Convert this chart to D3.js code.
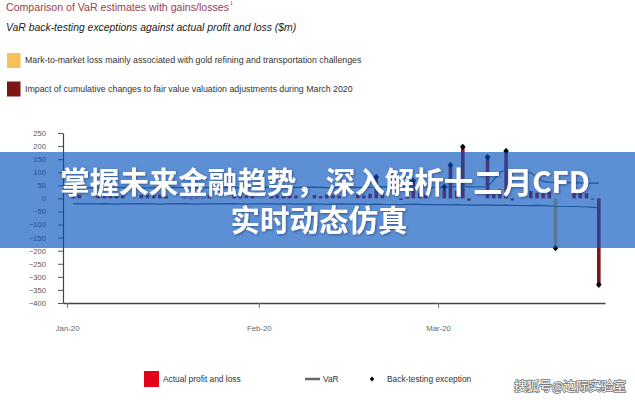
<!DOCTYPE html>
<html><head><meta charset="utf-8">
<script src="https://cdn.jsdelivr.net/npm/d3@7"></script>
<style>
body{margin:0;background:#fff}
svg{display:block}
text{font-family:"Liberation Sans",Arial,Helvetica,sans-serif}
</style></head>
<body><svg id="c" width="635" height="400"></svg>
<script>
// ---------- DATA ----------
const dates = [
 "2020-01-02","2020-01-03","2020-01-06","2020-01-07","2020-01-08","2020-01-09","2020-01-10",
 "2020-01-13","2020-01-14","2020-01-15","2020-01-16","2020-01-17","2020-01-20","2020-01-21",
 "2020-01-22","2020-01-23","2020-01-24","2020-01-28","2020-01-29","2020-01-30","2020-01-31",
 "2020-02-03","2020-02-04","2020-02-05","2020-02-06","2020-02-07","2020-02-10","2020-02-11",
 "2020-02-12","2020-02-13","2020-02-14","2020-02-17","2020-02-18","2020-02-19","2020-02-20",
 "2020-02-21","2020-02-24","2020-02-25","2020-02-26","2020-02-27","2020-02-28",
 "2020-03-02","2020-03-03","2020-03-04","2020-03-05","2020-03-06","2020-03-09","2020-03-10",
 "2020-03-11","2020-03-12","2020-03-13","2020-03-16","2020-03-17","2020-03-18","2020-03-19",
 "2020-03-20","2020-03-23","2020-03-24","2020-03-25","2020-03-26","2020-03-27"
];
const profitLoss = [
 12,14,9,13,15,11,12,14,13,12,15,10,3,-3,2,-2,13,12,14,11,13,
 10,12,8,14,11,13,9,15,12,10,14,11,18,82,16,-6,20,67,22,15,
 45,128,30,197,-9,158,25,35,181,-8,28,22,32,26,-190,30,24,20,-4,-190
];
const varUpper = [
 40,41,40,39,40,41,42,41,40,40,41,42,41,40,40,41,42,41,40,41,42,
 42,41,40,41,42,43,42,41,40,41,42,41,42,44,45,44,46,45,44,43,
 42,44,45,46,44,45,70,100,108,104,98,80,65,62,60,60,59,58,58,58
];
const varLower = [
 -20,-21,-21,-20,-21,-22,-21,-20,-21,-21,-22,-21,-20,-21,-22,-21,-21,-20,-21,-22,-21,
 -21,-22,-21,-21,-22,-21,-22,-23,-22,-21,-22,-22,-23,-22,-23,-24,-23,-22,-23,-24,
 -24,-25,-24,-25,-26,-25,-26,-27,-26,-27,-28,-27,-28,-29,-30,-31,-32,-33,-34,-35
];
const goldLossDates = ["2020-03-20"];                 // mark-to-market loss (gold)
const fairValueAdj = [["2020-03-27", -140]];          // cumulative fair value adjustments
const exceptionDates = ["2020-02-20","2020-02-26","2020-03-02","2020-03-03","2020-03-05",
                        "2020-03-09","2020-03-12","2020-03-20","2020-03-27"];
const monthTicks = ["2020-01-01","2020-02-01","2020-03-01"];
const yTicks = [250,200,150,100,50,0,-50,-100,-150,-200,-250,-300,-350,-400];
const title = "Comparison of VaR estimates with gains/losses";
const subtitle = "VaR back-testing exceptions against actual profit and loss ($m)";
const topLegend = ["Mark-to-market loss mainly associated with gold refining and transportation challenges",
                   "Impact of cumulative changes to fair value valuation adjustments during March 2020"];
const bottomLegend = ["Actual profit and loss","VaR","Back-testing exception"];
const bannerLines = ["掌握未来金融趋势，深入解析十二月CFD","实时动态仿真"];
const watermark = "搜狐号@边际实验室";

// ---------- CHART ----------
const parse = d3.timeParse("%Y-%m-%d");
const adjMap = new Map(fairValueAdj);
const rows = dates.map((k,i)=>({key:k,date:parse(k),v:profitLoss[i],up:varUpper[i],lo:varLower[i],
   adj:adjMap.get(k)||0}));
const svg = d3.select("#c");

const x = d3.scaleTime().domain([new Date(2019,11,31,8), new Date(2020,2,28)]).range([63,605]);
const y = d3.scaleLinear().domain([-400,250]).range([303,133]);

const COL_PL = "#b3151f", COL_GOLD = "#f6c15b", COL_ADJ = "#7c1717", COL_VAR = "#5a5f66";

// titles
const t1 = svg.append("text").attr("x",6).attr("y",11).attr("font-size",10.6).attr("fill","#9b3d52").text(title);
const tEnd = 6 + t1.node().getComputedTextLength();
svg.append("text").attr("x",tEnd+1).attr("y",5).attr("font-size",5).attr("fill","#9b3d52").text("1");
svg.append("text").attr("x",6).attr("y",31).attr("font-size",10.4).attr("font-style","italic")
   .attr("fill","#222").text(subtitle);

// top legend
const tl = svg.append("g");
[COL_GOLD, COL_ADJ].forEach((c,i)=>{
  tl.append("rect").attr("x",7).attr("y",53+i*28.5).attr("width",13.5).attr("height",15).attr("fill",c);
  tl.append("text").attr("x",25).attr("y",63+i*28.5).attr("font-size",8.8).attr("fill","#333").text(topLegend[i]);
});

// bars
const bw = 3.6;
const goldSet = new Set(goldLossDates);
svg.append("g").selectAll("rect").data(rows).join("rect")
  .attr("x",d=>x(d.date)-bw/2).attr("width",bw)
  .attr("y",d=>y(Math.max(0,d.v))).attr("height",d=>Math.abs(y(d.v)-y(0)))
  .attr("fill",d=>goldSet.has(d.key)?COL_GOLD:COL_PL);
svg.append("g").selectAll("rect").data(rows.filter(d=>d.adj)).join("rect")
  .attr("x",d=>x(d.date)-bw/2).attr("width",bw)
  .attr("y",d=>y(d.v)).attr("height",d=>y(d.v+d.adj)-y(d.v))
  .attr("fill",COL_ADJ);

// VaR lines
const lineUp = d3.line().x(d=>x(d.date)).y(d=>y(d.up));
const lineLo = d3.line().x(d=>x(d.date)).y(d=>y(d.lo));
svg.append("path").datum(rows).attr("d",lineUp).attr("fill","none").attr("stroke",COL_VAR).attr("stroke-width",1.2);
svg.append("path").datum(rows).attr("d",lineLo).attr("fill","none").attr("stroke",COL_VAR).attr("stroke-width",1.2);

// exceptions
const dia = "M0,-3.2L2.8,0L0,3.2L-2.8,0Z";
const exSet = new Set(exceptionDates);
svg.append("g").selectAll("path").data(rows.filter(d=>exSet.has(d.key))).join("path")
  .attr("d",dia).attr("transform",d=>`translate(${x(d.date)},${y(d.v+d.adj)})`).attr("fill","#000");

// axes
const yAxis = svg.append("g").attr("transform","translate(63,0)")
  .call(d3.axisLeft(y).tickValues(yTicks).tickSize(5).tickSizeOuter(0).tickPadding(12).tickFormat(d3.format("d")));
yAxis.select(".domain").attr("stroke","#444").attr("stroke-width",1.2);
yAxis.selectAll(".tick line").attr("stroke","#555");
yAxis.selectAll("text").attr("font-size",7.6).attr("fill","#555").attr("font-family","Liberation Sans, Arial, sans-serif");

const xAxis = svg.append("g").attr("transform","translate(0,303)")
  .call(d3.axisBottom(x).tickValues(monthTicks.map(parse)).tickSize(5).tickSizeOuter(0).tickPadding(17)
        .tickFormat(d3.timeFormat("%b-%y")));
xAxis.select(".domain").attr("stroke","#444").attr("stroke-width",1.6);
xAxis.selectAll(".tick line").attr("stroke","#777");
xAxis.selectAll("text").attr("font-size",7.8).attr("fill","#666").attr("font-family","Liberation Sans, Arial, sans-serif");

// bottom legend
const bl = svg.append("g");
bl.append("rect").attr("x",144).attr("y",371).attr("width",15).attr("height",16).attr("fill","#e2001a");
bl.append("text").attr("x",163).attr("y",382).attr("font-size",8.4).attr("fill","#333").text(bottomLegend[0]);
bl.append("line").attr("x1",305).attr("x2",320).attr("y1",379).attr("y2",379).attr("stroke","#666").attr("stroke-width",2.5);
bl.append("text").attr("x",323).attr("y",382).attr("font-size",8.4).attr("fill","#333").text(bottomLegend[1]);
bl.append("path").attr("d",dia).attr("transform","translate(372,379) scale(0.8)").attr("fill","#000");
bl.append("text").attr("x",387).attr("y",382).attr("font-size",8.4).attr("fill","#333").text(bottomLegend[2]);

// banner overlay
const defs = svg.append("defs");
const f = defs.append("filter").attr("id","sh").attr("x","-10%").attr("y","-30%").attr("width","120%").attr("height","160%");
f.append("feDropShadow").attr("dx",1).attr("dy",1).attr("stdDeviation",1).attr("flood-color","#1d3566").attr("flood-opacity",0.6);
svg.append("rect").attr("x",0).attr("y",152).attr("width",635).attr("height",96)
   .attr("fill","rgb(0,80,188)").attr("fill-opacity",0.64);
const bt = svg.append("g").attr("filter","url(#sh)");
bt.append("text").attr("x",325).attr("y",193).attr("text-anchor","middle").attr("font-size",29.5)
  .attr("font-weight",700).attr("fill","#fff").style("font-family","'Noto Sans CJK SC',sans-serif").text(bannerLines[0]);
bt.append("text").attr("x",319).attr("y",231).attr("text-anchor","middle").attr("font-size",29.5)
  .attr("font-weight",700).attr("fill","#fff").style("font-family","'Noto Sans CJK SC',sans-serif").text(bannerLines[1]);

// watermark
svg.append("text").attr("x",626).attr("y",391).attr("text-anchor","end").attr("font-size",12.5)
  .style("font-family","'Noto Sans CJK SC',sans-serif").attr("fill","#fff").attr("stroke","#777")
  .attr("stroke-width",1.6).attr("paint-order","stroke").text(watermark);
</script></body></html>
